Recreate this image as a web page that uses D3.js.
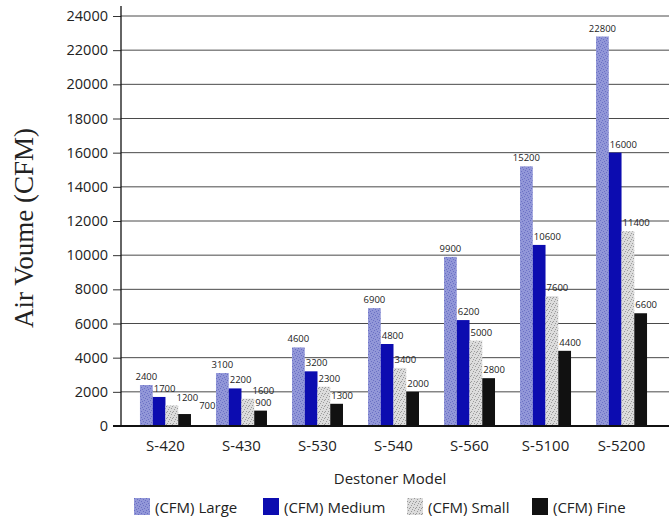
<!DOCTYPE html>
<html>
<head>
<meta charset="utf-8">
<script src="https://cdn.jsdelivr.net/npm/d3@7"></script>
<style>
  body { margin: 0; background: #fff; }
  svg { display: block; }
</style>
</head>
<body>
<svg id="chart" width="669" height="521"></svg>
<script>
// chart data
var models = ["S-420", "S-430", "S-530", "S-540", "S-560", "S-5100", "S-5200"];
var seriesNames = ["(CFM) Large", "(CFM) Medium", "(CFM) Small", "(CFM) Fine"];
var large = [2400, 3100, 4600, 6900, 9900, 15200, 22800];
var medium = [1700, 2200, 3200, 4800, 6200, 10600, 16000];
var small = [1200, 1600, 2300, 3400, 5000, 7600, 11400];
var fine = [700, 900, 1300, 2000, 2800, 4400, 6600];
var yTicks = [0, 2000, 4000, 6000, 8000, 10000, 12000, 14000, 16000, 18000, 20000, 22000, 24000];

var series = [large, medium, small, fine];
var fills = ["url(#patLarge)", "#0c0cb0", "url(#patSmall)", "#111"];

var svg = d3.select("#chart");

// textured fills like the scanned print
var defs = svg.append("defs");
function speckle(id, base, dot, dots) {
  var p = defs.append("pattern").attr("id", id)
    .attr("patternUnits", "userSpaceOnUse").attr("width", 6).attr("height", 6);
  p.append("rect").attr("width", 6).attr("height", 6).attr("fill", base);
  dots.forEach(function (d) {
    p.append("rect").attr("x", d[0]).attr("y", d[1]).attr("width", 1).attr("height", 1).attr("fill", dot);
  });
}
speckle("patLarge", "#9297d8", "#6a70c4", [[0, 0], [3, 1], [1, 3], [4, 4], [5, 2], [2, 5]]);
speckle("patSmall", "#dcdcdc", "#9a9a9a", [[1, 0], [4, 1], [0, 3], [3, 3], [5, 5], [2, 4]]);

var x = d3.scaleBand().domain(models).range([121, 666]).paddingInner(0).paddingOuter(0.085);
var y = d3.scaleLinear().domain([0, 24000]).range([426, 16]);
var groupW = 51;
var xs = d3.scaleBand().domain(d3.range(4)).range([0, groupW]);

// grid + y axis
var yAxis = svg.append("g")
  .attr("transform", "translate(121,0)")
  .call(d3.axisLeft(y).tickValues(yTicks).tickSize(8).tickPadding(5).tickFormat(d3.format("d")));
yAxis.select(".domain").remove();
yAxis.selectAll("text").attr("font-family", "'Open Sans', sans-serif").attr("font-size", 14.5).attr("fill", "#222");
yAxis.selectAll("line").attr("stroke", "#333");

svg.append("g").selectAll("line")
  .data(yTicks.filter(function (d) { return d > 0; }))
  .enter().append("line")
  .attr("x1", 121).attr("x2", 669)
  .attr("y1", function (d) { return y(d); }).attr("y2", function (d) { return y(d); })
  .attr("stroke", "#4a4a4a").attr("stroke-width", 1);

// bars
var groups = svg.append("g").selectAll("g")
  .data(models).enter().append("g")
  .attr("transform", function (m) { return "translate(" + (x(m) + (x.bandwidth() - groupW) / 2) + ",0)"; });

groups.each(function (m, i) {
  var g = d3.select(this);
  var prev = null;
  series.forEach(function (s, k) {
    g.append("rect")
      .attr("x", xs(k)).attr("width", xs.bandwidth())
      .attr("y", y(s[i])).attr("height", y(0) - y(s[i]))
      .attr("fill", fills[k]);
    var ty = y(s[i]) - 5;
    var t = g.append("text")
      .attr("y", ty)
      .attr("font-family", "'Open Sans', sans-serif").attr("font-size", 9.5).attr("fill", "#222")
      .text(s[i]);
    var w = t.node().getComputedTextLength();
    var tx = k === 0 ? xs(k) + xs.bandwidth() / 2 - w / 2 : xs(k) + 1;
    // push right if it would sit on the previous label
    if (prev && ty - prev.y < 11.5) tx = Math.max(tx, prev.right + 1);
    t.attr("x", tx);
    prev = { y: ty, right: tx + w };
  });
});

// axes lines
svg.append("line").attr("x1", 121).attr("x2", 121).attr("y1", 6).attr("y2", 426)
  .attr("stroke", "#111").attr("stroke-width", 1.3);
svg.append("line").attr("x1", 113).attr("x2", 669).attr("y1", 426).attr("y2", 426)
  .attr("stroke", "#111").attr("stroke-width", 1.8);

// x labels
var xAxis = svg.append("g").attr("transform", "translate(0,426)")
  .call(d3.axisBottom(x).tickSize(0).tickPadding(14));
xAxis.select(".domain").remove();
xAxis.selectAll("text").attr("font-family", "'Open Sans', sans-serif").attr("font-size", 15).attr("fill", "#222");

svg.append("text").attr("x", 390).attr("y", 484)
  .attr("text-anchor", "middle")
  .attr("font-family", "'Open Sans', sans-serif").attr("font-size", 15).attr("fill", "#222")
  .text("Destoner Model");

svg.append("text")
  .attr("transform", "translate(33,228) rotate(-90)")
  .attr("text-anchor", "middle")
  .attr("font-family", "'Liberation Serif', serif").attr("font-size", 27).attr("fill", "#222")
  .text("Air Voume (CFM)");

// legend
var legendX = [134, 263, 407, 532];
var legend = svg.append("g").selectAll("g")
  .data(seriesNames).enter().append("g")
  .attr("transform", function (d, i) { return "translate(" + legendX[i] + ",498)"; });
legend.append("rect").attr("width", 16).attr("height", 17)
  .attr("fill", function (d, i) { return fills[i]; });
legend.append("text").attr("x", 21).attr("y", 15)
  .attr("font-family", "'Open Sans', sans-serif").attr("font-size", 15).attr("fill", "#222")
  .text(function (d) { return d; });
</script>
</body>
</html>
